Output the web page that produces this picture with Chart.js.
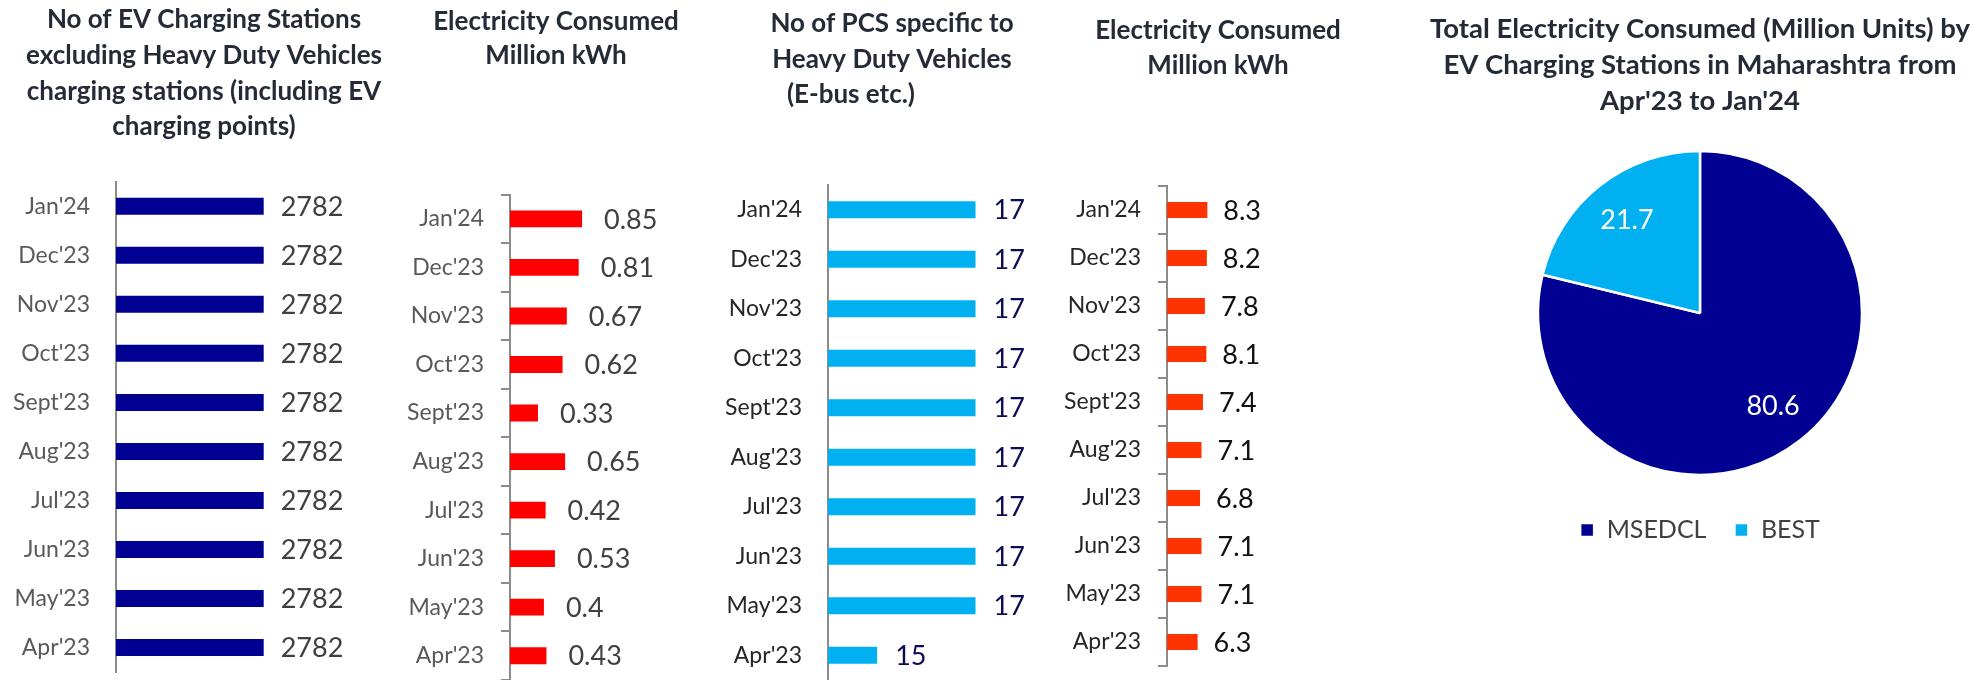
<!DOCTYPE html>
<html>
<head>
<meta charset="utf-8">
<title>EV charging stations - Maharashtra</title>
<script src="https://cdn.jsdelivr.net/npm/chart.js@4.4.1/dist/chart.umd.min.js"></script>
<style>
  html, body { margin: 0; padding: 0; background: #fff; }
  #wrap { position: relative; width: 1980px; height: 680px; overflow: hidden; }
  #wrap canvas { position: absolute; top: 0; }
</style>
</head>
<body>
<div id="wrap">
  <canvas id="c1" width="408" height="680" style="left:0px;width:408px;height:680px"></canvas>
  <canvas id="c2" width="332" height="680" style="left:390px;width:332px;height:680px"></canvas>
  <canvas id="c3" width="344" height="680" style="left:720px;width:344px;height:680px"></canvas>
  <canvas id="c4" width="316" height="680" style="left:1060px;width:316px;height:680px"></canvas>
  <canvas id="c5" width="570" height="680" style="left:1410px;width:570px;height:680px"></canvas>
</div>
<script>
// months are listed top to bottom, as they appear on the charts
var months = ["Jan'24", "Dec'23", "Nov'23", "Oct'23", "Sept'23", "Aug'23", "Jul'23", "Jun'23", "May'23", "Apr'23"];
var stationCount = [2782, 2782, 2782, 2782, 2782, 2782, 2782, 2782, 2782, 2782];
var stationKwh = [0.85, 0.81, 0.67, 0.62, 0.33, 0.65, 0.42, 0.53, 0.4, 0.43];
var hdvCount = [17, 17, 17, 17, 17, 17, 17, 17, 17, 15];
var hdvKwh = [8.3, 8.2, 7.8, 8.1, 7.4, 7.1, 6.8, 7.1, 7.1, 6.3];
var discoms = ['MSEDCL', 'BEST'];
var discomTotals = [80.6, 21.7];

var FONT = 'Lato';
var TITLE_COLOR = '#252b36';

// value printed just past the end of each bar
var barValues = {
  id: 'barValues',
  afterDatasetsDraw: function(chart, args, opts) {
    var ctx = chart.ctx;
    var data = chart.data.datasets[0].data;
    ctx.save();
    ctx.font = opts.size + 'px ' + FONT;
    ctx.fillStyle = opts.color;
    ctx.textAlign = 'left';
    ctx.textBaseline = 'middle';
    chart.getDatasetMeta(0).data.forEach(function(bar, i) {
      ctx.fillText(String(data[i]), bar.x + opts.gap, bar.y + 1);
    });
    ctx.restore();
  }
};

// white labels inside the pie slices
var pieValues = {
  id: 'pieValues',
  afterDatasetsDraw: function(chart, args, opts) {
    var ctx = chart.ctx;
    var data = chart.data.datasets[0].data;
    ctx.save();
    ctx.font = opts.size + 'px ' + FONT;
    ctx.fillStyle = '#ffffff';
    ctx.textAlign = 'center';
    ctx.textBaseline = 'middle';
    chart.getDatasetMeta(0).data.forEach(function(arc, i) {
      var mid = (arc.startAngle + arc.endAngle) / 2;
      var r = arc.outerRadius * opts.at;
      ctx.fillText(String(data[i]), arc.x + Math.cos(mid) * r, arc.y + Math.sin(mid) * r);
    });
    ctx.restore();
  }
};

function hbar(id, c) {
  return new Chart(document.getElementById(id), {
    type: 'bar',
    data: {
      labels: months,
      datasets: [{
        data: c.values,
        backgroundColor: c.color,
        barPercentage: c.barPct,
        categoryPercentage: 1
      }]
    },
    options: {
      indexAxis: 'y',
      responsive: false,
      animation: false,
      layout: { padding: { top: 0, right: 0, left: 0, bottom: c.padBottom } },
      plugins: {
        legend: { display: false },
        tooltip: { enabled: false },
        title: {
          display: true,
          text: c.title,
          color: TITLE_COLOR,
          font: { family: FONT, size: 26, weight: 'bold', lineHeight: c.lineHeight },
          padding: c.titlePad
        },
        barValues: { gap: c.gap, color: c.valueColor, size: 27 }
      },
      scales: {
        x: { display: false, min: c.min, max: c.max },
        y: {
          afterFit: function(s) { s.width = c.axisWidth; s.paddingTop = 0; s.paddingBottom = 0; },
          border: { display: true, color: '#8c8c8c', width: 2 },
          grid: { display: c.ticks, drawOnChartArea: false, drawTicks: c.ticks, tickLength: 9, color: '#8c8c8c', lineWidth: 2 },
          ticks: { padding: c.ticks ? 17 : 26, color: c.labelColor, font: { family: FONT, size: 23 } }
        }
      }
    },
    plugins: [barValues]
  });
}

hbar('c1', {
  values: stationCount, color: '#000092', barPct: 0.347,
  title: ['No of EV Charging Stations', 'excluding Heavy Duty Vehicles', 'charging stations (including EV', 'charging points)'],
  lineHeight: 1.373, titlePad: { top: 2, bottom: 37 }, padBottom: 8,
  min: 0, max: 5500, axisWidth: 116, ticks: false,
  labelColor: '#595959', valueColor: '#404040', gap: 17
});

hbar('c2', {
  values: stationKwh, color: '#ff0000', barPct: 0.347,
  title: ['Electricity Consumed', 'Million kWh'],
  lineHeight: 1.31, titlePad: { top: 5, bottom: 121.5 }, padBottom: -5,
  min: 0, max: 2.5, axisWidth: 120, ticks: true,
  labelColor: '#595959', valueColor: '#404040', gap: 22
});

hbar('c3', {
  values: hdvCount, color: '#00b0f0', barPct: 0.347,
  title: ['No of PCS specific to', 'Heavy Duty Vehicles', '(E-bus etc.)             '],
  lineHeight: 1.365, titlePad: { top: 6, bottom: 72.5 }, padBottom: -3,
  min: 14, max: 18.8, axisWidth: 108, ticks: false,
  labelColor: '#262626', valueColor: '#0c0c55', gap: 18
});

hbar('c4', {
  values: hdvKwh, color: '#ff3300', barPct: 0.333,
  title: ['Electricity Consumed', 'Million kWh'],
  lineHeight: 1.346, titlePad: { top: 13.5, bottom: 102.5 }, padBottom: 14,
  min: 0, max: 43, axisWidth: 107, ticks: true,
  labelColor: '#262626', valueColor: '#111111', gap: 16
});

new Chart(document.getElementById('c5'), {
  type: 'pie',
  data: {
    labels: discoms,
    datasets: [{
      data: discomTotals,
      backgroundColor: ['#000092', '#00b0f0'],
      borderColor: '#ffffff',
      borderWidth: 2.5,
      radius: 162
    }]
  },
  options: {
    responsive: false,
    animation: false,
    layout: { padding: { left: 10, bottom: 127.5 } },
    plugins: {
      title: {
        display: true,
        text: ['Total Electricity Consumed (Million Units) by', 'EV Charging Stations in Maharashtra from', "Apr'23 to Jan'24"],
        color: TITLE_COLOR,
        font: { family: FONT, size: 27.5, weight: 'bold', lineHeight: 1.3 },
        padding: { top: 11.6, bottom: 17.6 }
      },
      legend: {
        position: 'bottom',
        labels: { boxWidth: 14, boxHeight: 14, padding: 28, color: '#404040', font: { family: FONT, size: 25 } }
      },
      tooltip: { enabled: false },
      pieValues: { size: 27, at: 0.73 }
    }
  },
  plugins: [pieValues]
});
</script>
</body>
</html>
